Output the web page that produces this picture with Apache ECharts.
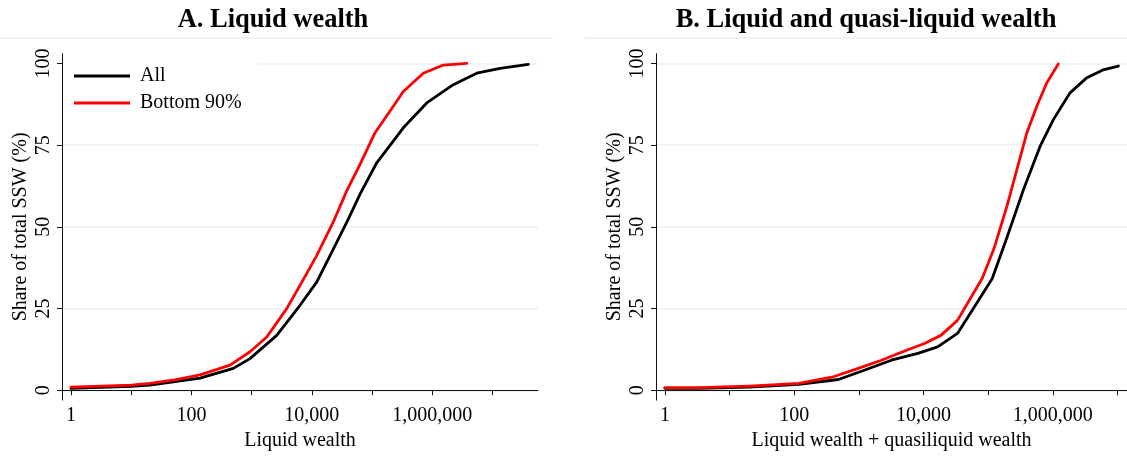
<!DOCTYPE html>
<html>
<head>
<meta charset="utf-8">
<script src="https://cdn.jsdelivr.net/npm/echarts@6/dist/echarts.min.js"></script>
<style>
  html, body { margin: 0; padding: 0; background: #ffffff; }
  #chart { width: 1127px; height: 456px; }
</style>
</head>
<body>
<div id="chart"></div>
<script>
// Cumulative share of total SSW (%) against wealth (log scale)

// Panel A: liquid wealth
const liquidAllWealth = [1, 10, 20.5, 139, 497, 940, 2612, 6368, 12050, 22750, 40360, 63240, 119700, 331000, 811000, 2240000, 5490000, 13400000, 39500000];
const liquidAllShare  = [0.6, 1.2, 1.6, 3.7, 6.7, 9.7, 16.8, 26.0, 33.1, 43.2, 52.4, 60.0, 69.6, 80.3, 87.9, 93.5, 97.0, 98.5, 99.7];

const liquidB90Wealth = [1, 3.2, 10, 20.5, 53, 139, 438, 940, 1782, 3828, 6368, 12050, 22750, 38000, 63240, 112200, 226000, 331000, 711000, 1530000, 3740000];
const liquidB90Share  = [1.0, 1.3, 1.6, 2.1, 3.2, 4.7, 7.7, 11.8, 16.3, 25.0, 32.1, 41.2, 51.5, 61.0, 69.1, 78.8, 86.9, 91.4, 97.0, 99.5, 100];

// Panel B: liquid + quasi-liquid wealth
const quasiAllWealth = [1, 3.44, 20.1, 117.7, 483, 1241, 3177, 8147, 16510, 33480, 61000, 115100, 195600, 353000, 634000, 1018000, 1828000, 3297000, 5953000, 10330000];
const quasiAllShare  = [0.6, 0.6, 1.0, 1.8, 3.3, 6.2, 9.2, 11.3, 13.3, 17.4, 25.5, 34.1, 46.8, 61.5, 74.6, 82.8, 90.9, 95.5, 98.0, 99.2];

const quasiB90Wealth = [1, 3.44, 20.1, 117.7, 381, 979, 2230, 5094, 10320, 18550, 33480, 80930, 122300, 195600, 278500, 396600, 564500, 803700, 1214000];
const quasiB90Share  = [0.8, 0.8, 1.3, 2.1, 4.0, 6.7, 9.2, 12.0, 14.3, 16.8, 21.4, 34.3, 43.2, 56.4, 67.6, 78.8, 86.9, 94.0, 99.8];

// Axis ticks
const yTicks = [0, 25, 50, 75, 100];
const xMajorTicks = [1, 10, 100, 1000, 10000, 100000, 1000000, 10000000];
const xLabelTicks = [1, 100, 10000, 1000000];

const panelTitles = ['A. Liquid wealth', 'B. Liquid and quasi-liquid wealth'];
const xAxisTitles = ['Liquid wealth', 'Liquid wealth + quasiliquid wealth'];
const yAxisTitle = 'Share of total SSW (%)';
const seriesNames = ['All', 'Bottom 90%'];

const SERIF = "'Liberation Serif', 'Times New Roman', serif";

function pairs(xs, ys) {
  return xs.map((x, i) => [x, ys[i]]);
}

function xAxisDef(gridIndex, logMin, logMax, title) {
  return {
    type: 'log',
    logBase: 10,
    gridIndex: gridIndex,
    min: Math.pow(10, logMin),
    max: Math.pow(10, logMax),
    name: title,
    nameLocation: 'middle',
    nameGap: 28,
    nameTextStyle: { fontFamily: SERIF, fontSize: 20, color: '#000' },
    axisLine: { show: true, lineStyle: { color: '#111', width: 1 } },
    axisTick: { show: true, length: 5, customValues: xMajorTicks, lineStyle: { color: '#111', width: 1 } },
    minorTick: { show: false },
    axisLabel: {
      customValues: xLabelTicks,
      margin: 6,
      fontFamily: SERIF,
      fontSize: 20,
      color: '#000',
      formatter: v => Math.round(v).toLocaleString('en-US')
    },
    splitLine: { show: false }
  };
}

function yAxisDef(gridIndex) {
  return {
    type: 'value',
    gridIndex: gridIndex,
    min: -3,
    max: 103,
    name: yAxisTitle,
    nameLocation: 'middle',
    nameGap: 31,
    nameTextStyle: { fontFamily: SERIF, fontSize: 20, color: '#000' },
    axisLine: { show: true, lineStyle: { color: '#111', width: 1 } },
    axisTick: { show: true, length: 5, customValues: yTicks, lineStyle: { color: '#111', width: 1 } },
    axisLabel: {
      customValues: yTicks,
      rotate: 90,
      margin: 8,
      fontFamily: SERIF,
      fontSize: 20,
      color: '#000'
    },
    splitLine: { show: true, lineStyle: { color: '#e8efef', width: 1.5 } }
  };
}

function lineSeries(name, xi, data, color) {
  return {
    name: name,
    type: 'line',
    xAxisIndex: xi,
    yAxisIndex: xi,
    data: data,
    showSymbol: false,
    symbol: 'none',
    smooth: false,
    lineStyle: { color: color, width: 2.8, join: 'round', cap: 'round' },
    itemStyle: { color: color },
    emphasis: { disabled: true },
    animation: false,
    z: name === 'All' ? 3 : 4
  };
}

const chart = echarts.init(document.getElementById('chart'), null, { renderer: 'canvas' });

chart.setOption({
  backgroundColor: '#ffffff',
  animation: false,
  title: [
    { text: panelTitles[0], left: 268, top: 2, textAlign: 'center',
      textStyle: { fontFamily: SERIF, fontSize: 26.5, fontWeight: 'bold', color: '#000' } },
    { text: panelTitles[1], left: 861, top: 2, textAlign: 'center',
      textStyle: { fontFamily: SERIF, fontSize: 26.5, fontWeight: 'bold', color: '#000' } }
  ],
  graphic: [
    { type: 'line', shape: { x1: 0, y1: 38, x2: 553, y2: 38 }, style: { stroke: '#e8efef', lineWidth: 1.5 }, silent: true },
    { type: 'line', shape: { x1: 585, y1: 38, x2: 1127, y2: 38 }, style: { stroke: '#e8efef', lineWidth: 1.5 }, silent: true }
  ],
  legend: {
    data: seriesNames,
    orient: 'vertical',
    left: 63,
    top: 58,
    padding: [8, 16, 8, 11],
    icon: 'rect',
    itemGap: 7,
    itemWidth: 56,
    itemHeight: 3,
    backgroundColor: '#ffffff',
    textStyle: { fontFamily: SERIF, fontSize: 20, color: '#000', padding: [0, 0, 0, 5] },
    selectedMode: false,
    z: 5
  },
  grid: [
    { left: 62, top: 53.6, width: 476, height: 348.2 },
    { left: 656, top: 53.6, width: 475, height: 348.2 }
  ],
  xAxis: [
    xAxisDef(0, -0.1495, 7.757, xAxisTitles[0]),
    xAxisDef(1, -0.138, 7.147, xAxisTitles[1])
  ],
  yAxis: [yAxisDef(0), yAxisDef(1)],
  series: [
    lineSeries(seriesNames[0], 0, pairs(liquidAllWealth, liquidAllShare), '#000000'),
    lineSeries(seriesNames[1], 0, pairs(liquidB90Wealth, liquidB90Share), '#ff0000'),
    lineSeries(seriesNames[0], 1, pairs(quasiAllWealth, quasiAllShare), '#000000'),
    lineSeries(seriesNames[1], 1, pairs(quasiB90Wealth, quasiB90Share), '#ff0000')
  ]
});
</script>
</body>
</html>
